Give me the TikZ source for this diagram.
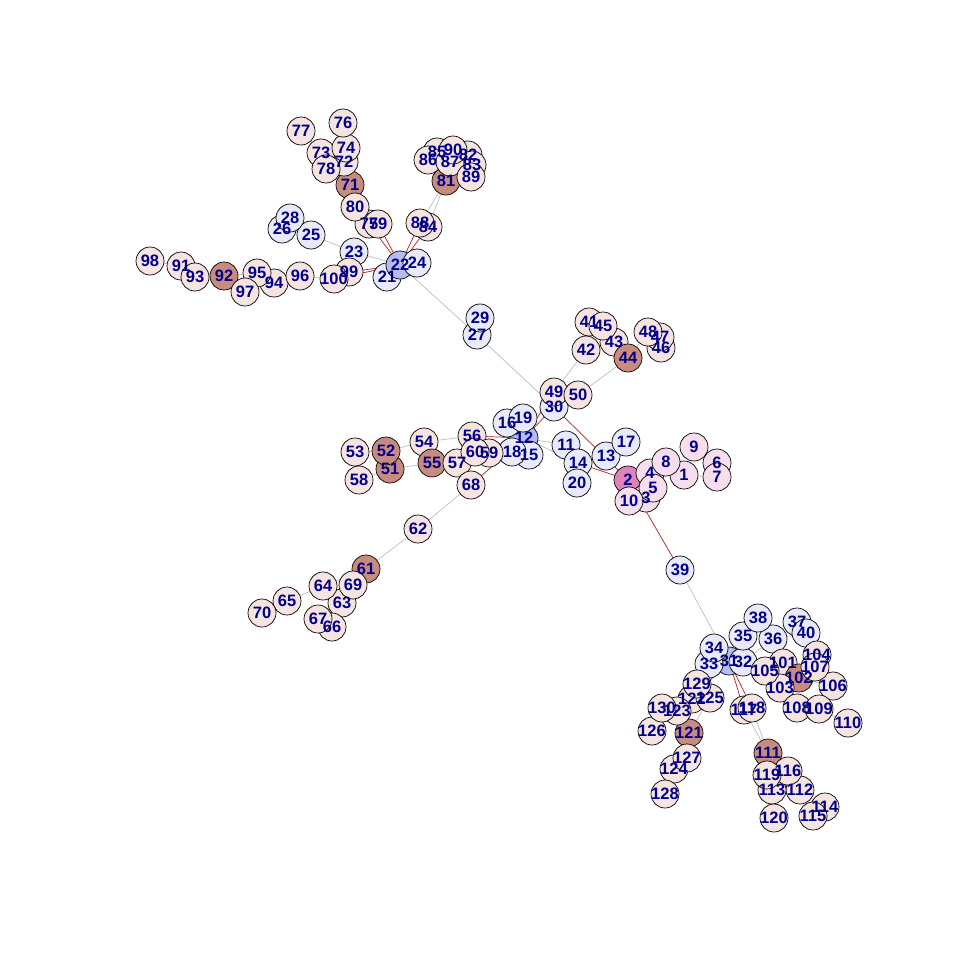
\documentclass[tikz,border=0pt]{standalone}
\usepackage{fontspec}
\setmainfont{Liberation Sans}
\usepackage{tikz}
\usetikzlibrary{backgrounds}

\definecolor{lblue}{RGB}{232,234,250}
\definecolor{hblue}{RGB}{180,188,240}
\definecolor{beige}{RGB}{245,228,224}
\definecolor{brown}{RGB}{200,140,126}
\definecolor{rose}{RGB}{246,222,236}
\definecolor{magenta}{RGB}{222,132,184}
\definecolor{linkgray}{RGB}{190,190,190}
\definecolor{linkred}{RGB}{185,30,40}
\definecolor{labelblue}{RGB}{0,0,139}

\begin{document}
\begin{tikzpicture}[
    x=1pt, y=-1pt,
    vert/.style={circle, draw=black, line width=0.7pt, minimum size=28pt, inner sep=0pt},
    vb/.style={vert, fill=lblue},
    vh/.style={vert, fill=hblue},
    vp/.style={vert, fill=beige},
    vd/.style={vert, fill=brown},
    vr/.style={vert, fill=rose},
    vm/.style={vert, fill=magenta},
    lbl/.style={inner sep=0pt, text=labelblue, font=\fontsize{16.5}{16.5}\selectfont\bfseries},
    link/.style={draw=linkgray, line width=0.7pt},
    cross/.style={draw=linkred, line width=0.7pt}
]
    \useasboundingbox (0,0) rectangle (960,960);

    % vertices
    \foreach \n/\x/\y/\s in {
        1/684/475/vr, 2/628/480/vm, 3/646/498/vr, 4/650/473/vr, 5/653/488/vr,
        6/717/463/vr, 7/717/477/vr, 8/666/462/vr, 9/694/447/vr, 10/629/501/vr,
        11/566/445/vb, 12/524/438/vh, 13/606/456/vb, 14/578/463/vb, 15/529/455/vb,
        16/507/423/vb, 17/626/442/vb, 18/512/452/vb, 19/523/418/vb, 20/577/483/vb,
        21/387/277/vb, 22/400/265/vh, 23/354/252/vb, 24/417/263/vb, 25/311/235/vb,
        26/282/229/vb, 27/477/335/vb, 28/290/218/vb, 29/480/318/vb, 30/554/407/vb,
        31/729/661/vh, 32/743/662/vb, 33/709/664/vb, 34/714/648/vb, 35/743/636/vb,
        36/773/639/vb, 37/797/622/vb, 38/758/618/vb, 39/680/570/vb, 40/806/633/vb,
        41/589/322/vp, 42/586/350/vp, 43/614/342/vp, 44/628/358/vd, 45/603/326/vp,
        46/661/348/vp, 47/660/337/vp, 48/648/332/vp, 49/554/392/vp, 50/578/395/vp,
        51/390/469/vd, 52/386/451/vd, 53/355/452/vp, 54/424/442/vp, 55/432/463/vd,
        56/472/436/vp, 57/457/463/vp, 58/359/480/vp, 59/489/453/vp, 60/475/452/vp,
        61/366/569/vd, 62/418/529/vp, 63/342/603/vp, 64/323/586/vp, 65/287/601/vp,
        66/332/627/vp, 67/318/619/vp, 68/471/485/vp, 69/353/585/vp, 70/262/613/vp,
        71/350/185/vd, 72/344/162/vp, 73/321/153/vp, 74/346/148/vp, 75/369/224/vp,
        76/343/123/vp, 77/301/131/vp, 78/326/169/vp, 79/378/224/vp, 80/355/207/vp,
        81/446/181/vd, 82/468/155/vp, 83/472/165/vp, 84/428/227/vp, 85/437/152/vp,
        86/428/160/vp, 87/450/162/vp, 88/420/223/vp, 89/471/177/vp, 90/453/150/vp,
        91/181/266/vp, 92/224/276/vd, 93/195/277/vp, 94/274/283/vp, 95/257/273/vp,
        96/300/276/vp, 97/245/292/vp, 98/150/261/vp, 99/349/272/vp, 100/334/279/vp,
        101/783/663/vp, 102/799/678/vd, 103/780/688/vp, 104/817/655/vp, 105/765/671/vp,
        106/833/686/vp, 107/815/667/vp, 108/797/708/vp, 109/819/709/vp, 110/848/723/vp,
        111/768/753/vd, 112/800/790/vp, 113/772/790/vp, 114/825/807/vp, 115/813/816/vp,
        116/788/771/vp, 117/744/710/vp, 118/752/708/vp, 119/767/775/vp, 120/774/818/vp,
        121/689/733/vd, 122/692/699/vp, 123/677/711/vp, 124/674/769/vp, 125/710/698/vp,
        126/652/731/vp, 127/687/758/vp, 128/665/794/vp, 129/697/684/vp, 130/662/708/vp}
        \node[\s] (v\n) at (\x,\y) {};

    % labels on top of all circles
    \foreach \n in {1,...,130}
        \node[lbl] (t\n) at (v\n) {\n};

    \begin{scope}[on background layer]
        \fill[white] (0,0) rectangle (960,960);
        % links inside the groups
        \foreach \a/\b in {
            2/4, 4/8, 8/1, 1/7, 7/6, 1/9, 2/10, 2/3, 4/5,
            12/16, 12/19, 12/18, 12/15, 12/11, 12/14, 14/20, 14/13, 13/17,
            22/21, 22/24, 22/23, 23/25, 25/26, 25/28, 22/27, 27/29, 27/30,
            31/34, 31/33, 31/32, 32/35, 35/38, 32/36, 36/40, 40/37, 39/31,
            30/49, 49/42, 42/41, 41/45, 45/43, 43/44, 50/44, 44/48, 48/47, 47/46, 30/50,
            52/54, 54/56, 51/55, 55/57, 57/60, 60/59, 59/18, 53/52, 58/51, 52/51, 56/60,
            68/62, 62/61, 61/69, 61/64, 64/65, 65/70, 69/63, 63/67, 67/66,
            75/80, 79/80, 80/71, 71/72, 72/74, 74/76, 72/73, 73/77, 72/78,
            84/81, 88/81, 81/87, 87/85, 85/86, 87/90, 87/82, 82/83, 83/89,
            99/100, 100/96, 96/94, 94/95, 95/97, 95/92, 92/93, 93/91, 91/98,
            105/101, 101/102, 102/104, 104/107, 102/106, 102/103, 103/108, 108/109, 109/110,
            117/111, 118/111, 111/119, 111/116, 116/112, 112/114, 114/115, 119/113, 113/120,
            129/122, 122/125, 125/121, 121/123, 123/130, 130/126, 121/127, 127/124, 124/128}
            \draw[link] (v\a) -- (v\b);
        % links between the groups
        \foreach \a/\b in {
            12/30, 12/49, 30/2, 14/2, 2/39, 12/56, 12/60, 12/68,
            22/75, 22/79, 22/88, 22/84, 22/99, 22/100,
            31/105, 31/129, 31/122, 31/117, 31/118}
            \draw[cross] (v\a) -- (v\b);
    \end{scope}
\end{tikzpicture}
\end{document}
